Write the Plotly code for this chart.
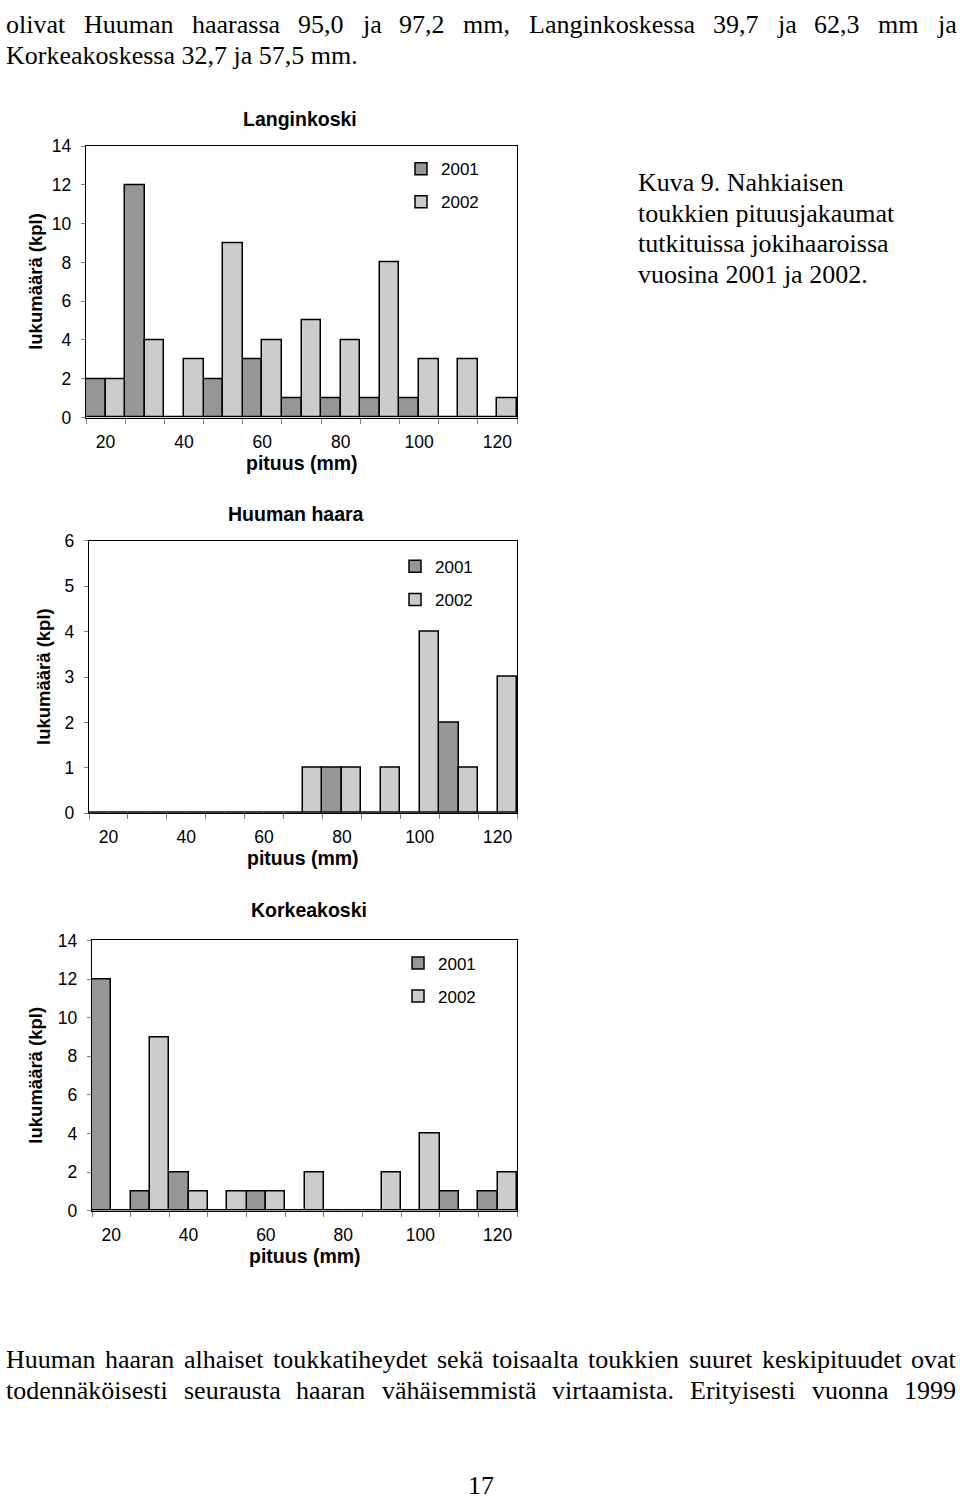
import plotly.graph_objects as go

# ---------------- data ----------------
lengths = ["20", "30", "40", "50", "60", "70", "80", "90", "100", "110", "120"]
tick_text = ["20", "", "40", "", "60", "", "80", "", "100", "", "120"]
years = ["2001", "2002"]

lang_2001 = [2, 12, 0, 2, 3, 1, 1, 1, 1, 0, 0]
lang_2002 = [2, 4, 3, 9, 4, 5, 4, 8, 3, 3, 1]
huuma_2001 = [0, 0, 0, 0, 0, 0, 1, 0, 0, 2, 0]
huuma_2002 = [0, 0, 0, 0, 0, 1, 1, 1, 4, 1, 3]
kork_2001 = [12, 1, 2, 0, 1, 0, 0, 0, 0, 1, 1]
kork_2002 = [0, 9, 1, 1, 1, 2, 0, 2, 4, 0, 2]

chart_titles = ["Langinkoski", "Huuman haara", "Korkeakoski"]
y_title = "lukumäärä (kpl)"
x_title = "pituus (mm)"

text_top = [
    "olivat Huuman haarassa 95,0 ja 97,2 mm, Langinkoskessa 39,7 ja 62,3 mm ja",
    "Korkeakoskessa 32,7 ja 57,5 mm.",
]
caption = [
    "Kuva 9. Nahkiaisen",
    "toukkien pituusjakaumat",
    "tutkituissa jokihaaroissa",
    "vuosina 2001 ja 2002.",
]
text_bottom = [
    "Huuman haaran alhaiset toukkatiheydet sekä toisaalta toukkien suuret keskipituudet ovat",
    "todennäköisesti seurausta haaran vähäisemmistä virtaamista. Erityisesti vuonna 1999",
]
page_no = "17"

# ---------------- layout helpers ----------------
W, H = 960, 1504
DARK = "#969696"
LIGHT = "#cccccc"
SANS = "Liberation Sans, Arial, sans-serif"
SERIF = "Liberation Serif, Times New Roman, serif"


def px(x):
    return x / W


def py(y):
    return 1 - y / H


# Times-Roman metrics (Liberation Serif is metric compatible)
TW = {" ": 250, ",": 250, ".": 250, "-": 333, "(": 333, ")": 333}
for d in "0123456789":
    TW[d] = 500
TW.update(dict(A=722, B=667, C=667, D=722, E=611, F=556, G=722, H=722, I=333, J=389,
               K=722, L=611, M=889, N=722, O=722, P=556, Q=722, R=667, S=556, T=611,
               U=722, V=722, W=944, X=722, Y=722, Z=611))
TW.update(dict(a=444, b=500, c=444, d=500, e=444, f=333, g=500, h=500, i=278, j=278,
               k=500, l=278, m=778, n=500, o=500, p=500, q=500, r=333, s=389, t=278,
               u=500, v=500, w=722, x=500, y=500, z=444))
TW.update({"ä": 444, "ö": 500, "å": 444})


def word_w(w, size):
    return sum(TW.get(c, 500) for c in w) * size / 1000.0


annotations = []


def add_text(t, x, y, size, anchor="left", font=SERIF, bold=False, angle=0):
    annotations.append(dict(
        text=f"<b>{t}</b>" if bold else t,
        x=px(x), y=py(y), xref="paper", yref="paper",
        xanchor=anchor, yanchor="middle", showarrow=False, borderpad=0,
        textangle=angle, font=dict(family=font, size=size, color="black")))


def justify(line, x0, x1, y, size):
    words = line.split(" ")
    widths = [word_w(w, size) for w in words]
    gap = (x1 - x0 - sum(widths)) / (len(words) - 1)
    x = x0
    for w, wd in zip(words, widths):
        add_text(w, x, y, size)
        x += wd + gap


BODY = 26
justify(text_top[0], 5, 955, 15, BODY)
add_text(text_top[1], 5, 46, BODY)
for i, line in enumerate(caption):
    add_text(line, 637, 175 + i * 31, BODY)
justify(text_bottom[0], 5, 955, 1368, BODY)
justify(text_bottom[1], 5, 955, 1399, BODY)
add_text(page_no, 481, 1495, BODY, anchor="center")

# ---------------- charts ----------------
panels = [
    dict(title=chart_titles[0], d1=lang_2001, d2=lang_2002, ymax=14, dtick=2,
         left=86, right=517, top=138, bottom=413, title_y=110, title_x=300,
         xt_y=459, yt_x=36, leg_x=441, leg_y=162),
    dict(title=chart_titles[1], d1=huuma_2001, d2=huuma_2002, ymax=6, dtick=1,
         left=89, right=517, top=538, bottom=814, title_y=511, title_x=296,
         xt_y=859, yt_x=43, leg_x=435, leg_y=565),
    dict(title=chart_titles[2], d1=kork_2001, d2=kork_2002, ymax=14, dtick=2,
         left=92, right=517, top=943, bottom=1217, title_y=912, title_x=309,
         xt_y=1263, yt_x=36, leg_x=438, leg_y=967),
]

fig = go.Figure()
layout_axes = {}
for k, p in enumerate(panels, start=1):
    sfx = "" if k == 1 else str(k)
    leg = "legend" if k == 1 else f"legend{k}"
    for yr, vals, col in ((years[0], p["d1"], DARK), (years[1], p["d2"], LIGHT)):
        fig.add_trace(go.Bar(
            x=lengths, y=vals, name=yr,
            marker=dict(color=col, line=dict(color="black", width=1.5)),
            xaxis=f"x{sfx}", yaxis=f"y{sfx}", legend=leg, legendgroup=f"{k}-{yr}",
            showlegend=True))
    layout_axes[f"xaxis{sfx}"] = dict(
        domain=[px(p["left"]), px(p["right"])], anchor=f"y{sfx}", type="category",
        categoryorder="array", categoryarray=lengths,
        tickmode="array", tickvals=lengths, ticktext=tick_text, tickson="boundaries",
        ticks="outside", ticklen=5, tickwidth=1, tickcolor="#808080",
        showline=True, linecolor="black", linewidth=1.4, mirror=True,
        showgrid=False, zeroline=False, ticklabelstandoff=8,
        tickfont=dict(family=SANS, size=17.5, color="black"), range=[-0.5, 10.5])
    layout_axes[f"yaxis{sfx}"] = dict(
        domain=[py(p["bottom"]), py(p["top"])], anchor=f"x{sfx}",
        range=[0, p["ymax"]], dtick=p["dtick"], tick0=0,
        ticks="outside", ticklen=4, tickwidth=1, tickcolor="#808080",
        showline=True, linecolor="black", linewidth=1.4, mirror=True,
        showgrid=False, zeroline=False, ticklabelstandoff=6,
        tickfont=dict(family=SANS, size=17.5, color="black"))
    layout_axes[leg] = dict(
        x=px(p["leg_x"] - 40), y=py(p["leg_y"] - 19), xanchor="left", yanchor="top",
        bgcolor="rgba(0,0,0,0)", borderwidth=0, tracegroupgap=8,
        font=dict(family=SANS, size=17, color="black"), itemclick=False)
    add_text(p["title"], p["title_x"], p["title_y"], 19.5, anchor="center", font=SANS, bold=True)
    add_text(x_title, (p["left"] + p["right"]) / 2, p["xt_y"], 19.5, anchor="center", font=SANS,
             bold=True)
    add_text(y_title, p["yt_x"], (p["top"] + p["bottom"]) / 2, 18.5, anchor="center", font=SANS,
             bold=True, angle=-90)

fig.update_layout(
    width=W, height=H, margin=dict(l=0, r=0, t=0, b=0),
    paper_bgcolor="white", plot_bgcolor="white",
    barmode="group", bargap=0, bargroupgap=0,
    annotations=annotations, **layout_axes)

fig.write_html(
    "out.html",
    config={"displayModeBar": False},
    post_script="document.body.style.margin='0';document.body.style.overflow='hidden';")
